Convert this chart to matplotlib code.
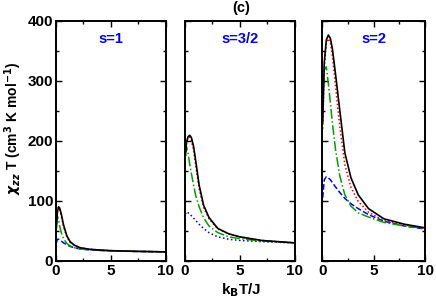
"""Three-panel chi_zz T vs k_B T/J plot, panel (c), s = 1, 3/2, 2."""

import matplotlib

matplotlib.use("Agg")
import matplotlib.pyplot as plt
from matplotlib.ticker import MultipleLocator

plt.rcParams["font.family"] = ["Liberation Sans", "DejaVu Sans"]
plt.rcParams["font.weight"] = "bold"
plt.rcParams["mathtext.fontset"] = "dejavusans"

# --- data (k_B T / J, chi_zz T) ----------------------------------------------
spin_labels = ["s=1", "s=3/2", "s=2"]

x_s1 = [0.05, 0.15, 0.25, 0.35, 0.5, 0.7, 1.0, 1.3, 1.7, 2.2, 3, 4, 5, 7, 10]
black_s1 = [55, 82, 90, 88, 78, 60, 42, 32, 26, 22, 19.5, 18, 17, 16, 15]
red_s1 = [55, 82, 89, 86, 75, 57, 40, 31, 25.5, 22, 19.5, 18, 17, 16, 15]
green_s1 = [62, 74, 68, 58, 47, 37, 29, 25, 22, 20, 18.5, 17.5, 17, 16, 15]
blue_s1 = [30, 36, 36, 35, 33, 30, 27, 24, 22, 20, 18.5, 17.5, 16.8, 15.8, 15]

x_s32 = [0.05, 0.15, 0.3, 0.45, 0.6, 0.8, 1.0, 1.3, 1.7, 2.2, 3, 4, 5, 7, 10]
black_s32 = [175, 198, 207, 209, 205, 190, 165, 126, 93, 72, 54, 45, 40, 34, 30]
red_s32 = [175, 196, 205, 206, 200, 183, 157, 120, 89, 70, 53, 45, 40, 34, 30]
green_s32 = [180, 190, 178, 160, 145, 125, 108, 90, 72, 58, 47, 40, 37, 33, 30]
blue_s32 = [78, 82, 80, 78, 75, 71, 67, 61, 54, 47, 40, 36, 34, 32, 30]

x_s2 = [0.05, 0.2, 0.4, 0.6, 0.8, 1.0, 1.3, 1.7, 2.2, 2.8, 3.5, 4.5, 6, 8, 10]
black_s2 = [230, 330, 368, 376, 370, 352, 310, 252, 180, 138, 110, 87, 70, 61, 55]
red_s2 = [220, 320, 362, 370, 363, 340, 290, 225, 160, 122, 99, 81, 67, 60, 54]
green_s2 = [260, 318, 323, 295, 262, 228, 185, 142, 110, 91, 80, 73, 64, 58, 54]
blue_s2 = [105, 135, 140, 138, 135, 130, 123, 114, 104, 95, 87, 77, 66, 58, 53]

panels = [
    (x_s1, black_s1, red_s1, green_s1, blue_s1, "--"),
    (x_s32, black_s32, red_s32, green_s32, blue_s32, ":"),
    (x_s2, black_s2, red_s2, green_s2, blue_s2, "--"),
]

# axes boxes in figure fractions (measured from the 436x303 reference)
boxes = [
    [0.128, 0.139, 0.252, 0.793],
    [0.424, 0.139, 0.252, 0.793],
    [0.739, 0.139, 0.236, 0.793],
]

fig = plt.figure(figsize=(4.36, 3.03), dpi=100)

for i, (box, label, (x, blk, red, grn, blu, blue_ls)) in enumerate(
    zip(boxes, spin_labels, panels)
):
    ax = fig.add_axes(box)
    ax.plot(x, blu, color="#0000ff", ls=blue_ls, lw=1.1)
    ax.plot(x, grn, color="#00a000", ls="-.", lw=1.1)
    ax.plot(x, red, color="#ff0000", ls=(0, (1, 1.5)), lw=1.1)
    ax.plot(x, blk, color="black", ls="-", lw=1.2)

    ax.set_xlim(0, 10)
    ax.set_ylim(0, 400)
    ax.xaxis.set_major_locator(MultipleLocator(5))
    ax.xaxis.set_minor_locator(MultipleLocator(2.5))
    ax.yaxis.set_major_locator(MultipleLocator(100))
    ax.yaxis.set_minor_locator(MultipleLocator(50))
    ax.tick_params(which="both", direction="in", top=True, right=True,
                   width=1.0, labelsize=11, pad=2)
    ax.tick_params(which="major", length=4.5)
    ax.tick_params(which="minor", length=2.5)
    for sp in ax.spines.values():
        sp.set_linewidth(1.4)
    if i > 0:
        ax.set_yticklabels([])
    else:
        ax.set_ylabel(r"$\chi_{zz}$ T (cm$^{\mathbf{3}}$ K mol$^{\mathbf{-1}}$)",
                      fontsize=10, fontweight="bold")
        ax.yaxis.set_label_coords(-0.29, 0.553)

    ax.text(0.5, 0.924, label, transform=ax.transAxes, ha="center", va="center",
            color="#0000ff", fontsize=10.5, fontweight="bold")

fig.text(241 / 436, 1 - 8 / 303, "(c)", ha="center", va="center",
         fontsize=10.5, fontweight="bold")
fig.text(241 / 436, 1 - 294 / 303, r"k$_{\mathbf{B}}$T/J", ha="center",
         va="baseline", fontsize=11, fontweight="bold")

fig.savefig("out.png", dpi=100)
